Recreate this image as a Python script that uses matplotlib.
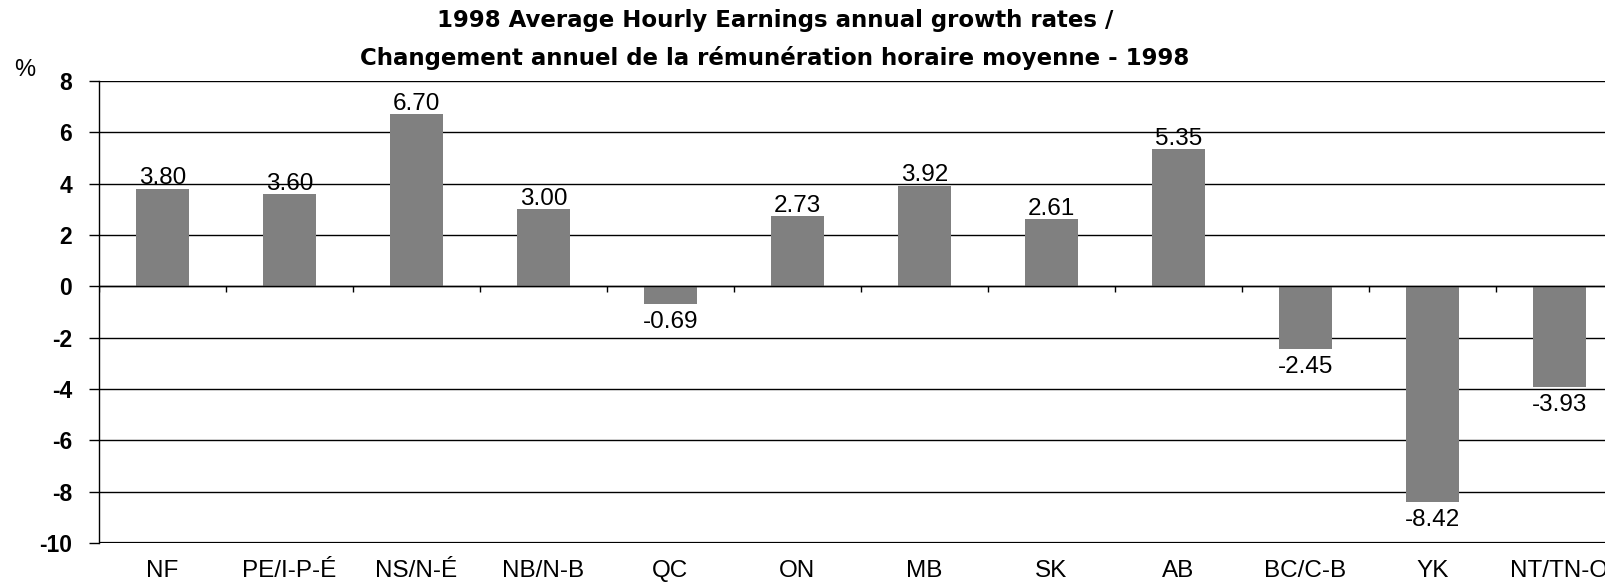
import matplotlib
matplotlib.use("Agg")
import matplotlib.pyplot as plt
import numpy as np

categories = ["NF", "PE/I-P-É", "NS/N-É", "NB/N-B", "QC", "ON", "MB", "SK", "AB", "BC/C-B", "YK", "NT/TN-O"]
values = [3.80, 3.60, 6.70, 3.00, -0.69, 2.73, 3.92, 2.61, 5.35, -2.45, -8.42, -3.93]
yticks = [8, 6, 4, 2, 0, -2, -4, -6, -8, -10]
title = "1998 Average Hourly Earnings annual growth rates /\nChangement annuel de la rémunération horaire moyenne - 1998"

plt.rcParams['font.family'] = ['Liberation Sans', 'DejaVu Sans']

W, H = 1606, 584
fig = plt.figure(figsize=(W / 100, H / 100), dpi=100)
left, right = 99, 1623
bottom, top = 543, 81
ax = fig.add_axes([left / W, 1 - bottom / H, (right - left) / W, (bottom - top) / H])

x = np.arange(len(categories))
ax.bar(x, values, width=0.42, color="#808080", zorder=3)
ax.set_xlim(-0.5, len(categories) - 0.5)
ax.set_ylim(-10, 8)

for v in yticks:
    ax.axhline(v, color="black", lw=1.0, zorder=1)
ax.axhline(-10, color="black", lw=1.6, zorder=1)
ax.axhline(0, color="black", lw=1.0, zorder=4)
# category boundary ticks on zero line
bounds = np.arange(len(categories) + 1) - 0.5
ax.vlines(bounds, -0.22, 0, color="black", lw=1.0, zorder=4)

for s in ["top", "right", "bottom"]:
    ax.spines[s].set_visible(False)
ax.spines["left"].set_linewidth(1.0)

ax.set_yticks(yticks)
ax.set_yticklabels([str(v) for v in yticks], fontsize=16.5, fontweight="bold")
ax.tick_params(axis="y", length=7.2, width=1.0, pad=12)
ax.set_xticks(x)
ax.set_xticklabels(categories, fontsize=17.5)
ax.tick_params(axis="x", length=0, pad=12)

for xi, v in zip(x, values):
    if v >= 0:
        ax.annotate(f"{v:.2f}", (xi, v), xytext=(0, -0.5), textcoords="offset points",
                    ha="center", va="bottom", fontsize=17.5, zorder=5)
    else:
        ax.annotate(f"{v:.2f}", (xi, v), xytext=(0, -5), textcoords="offset points",
                    ha="center", va="top", fontsize=17.5, zorder=5)

fig.text(775 / W, 1 - 39.5 / H, title, ha="center", va="center", fontsize=16.5,
         fontweight="bold", linespacing=1.75, family="DejaVu Sans")
fig.text(25 / W, 1 - 70 / H, "%", ha="center", va="center", fontsize=17)

fig.savefig("out.png", dpi=100)
